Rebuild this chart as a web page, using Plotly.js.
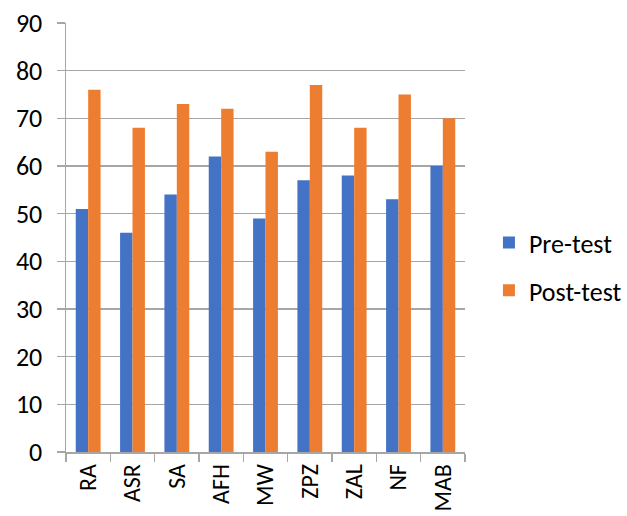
<!DOCTYPE html>
<html><head><meta charset="utf-8">
<script src="https://cdn.plot.ly/plotly-3.0.1.min.js"></script>
<style>body{margin:0;background:#fff}#c{width:627px;height:516px}</style>
</head><body><div id="c"></div>
<script>
const categories = ["RA","ASR","SA","AFH","MW","ZPZ","ZAL","NF","MAB"];
const preTest = [51,46,54,62,49,57,58,53,60];
const postTest = [76,68,73,72,63,77,68,75,70];
const grid = "#a6a6a6";
const fnt = {family:"Carlito, Calibri, 'Open Sans', sans-serif", size:26, color:"#000"};
const xfnt = Object.assign({}, fnt, {size:24});
Plotly.newPlot("c", [
 {type:"bar", name:"Pre-test", legendgroup:"a", x:categories, y:preTest, marker:{color:"#4472c4"}},
 {type:"bar", name:"Post-test", legendgroup:"b", x:categories, y:postTest, marker:{color:"#ed7d31"}}
], {
 width:627, height:516,
 margin:{l:66, r:162, t:23, b:64, autoexpand:false},
 paper_bgcolor:"#fff", plot_bgcolor:"#fff",
 barmode:"group", bargap:0.44, bargroupgap:0,
 font:fnt,
 xaxis:{tickangle:-90, showline:true, linecolor:grid, linewidth:1.5, ticks:"outside", tickson:"boundaries", ticklen:8, tickcolor:grid, tickwidth:1.5, showgrid:false, tickfont:xfnt, ticklabelstandoff:1, automargin:false},
 yaxis:{range:[0,90], dtick:10, showline:true, linecolor:grid, linewidth:1.5, ticks:"outside", ticklen:8, tickcolor:grid, tickwidth:1.5, gridcolor:grid, gridwidth:1.5, zeroline:false, tickfont:fnt, ticklabelstandoff:9, automargin:false},
 legend:{x:1.06, y:0.432, xanchor:"left", yanchor:"middle", font:fnt, itemwidth:30, traceorder:"grouped", tracegroupgap:11},
 showlegend:true
}, {staticPlot:true});
</script></body></html>
